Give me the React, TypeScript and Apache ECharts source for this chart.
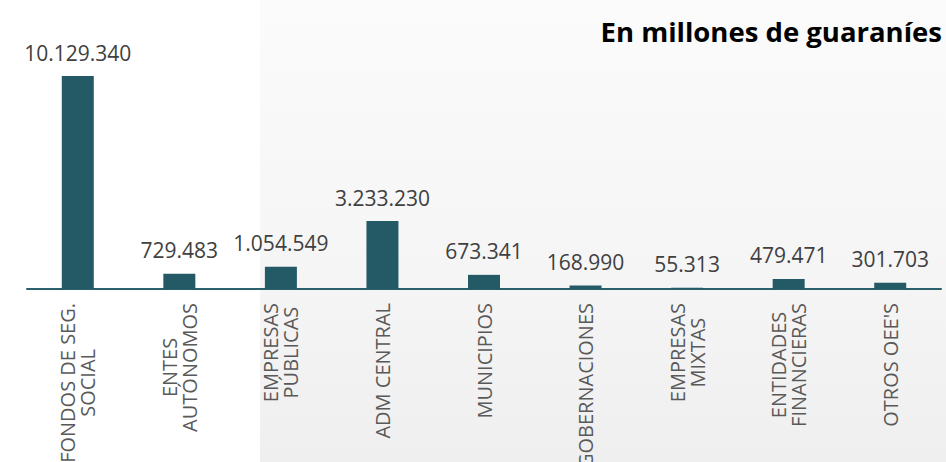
import React, { useEffect, useRef } from "react";
import * as echarts from "echarts";

const categories: string[] = [
  "FONDOS DE SEG.\nSOCIAL",
  "ENTES\nAUTÓNOMOS",
  "EMPRESAS\nPÚBLICAS",
  "ADM CENTRAL",
  "MUNICIPIOS",
  "GOBERNACIONES",
  "EMPRESAS\nMIXTAS",
  "ENTIDADES\nFINANCIERAS",
  "OTROS OEE'S",
];

const values: number[] = [10129340, 729483, 1054549, 3233230, 673341, 168990, 55313, 479471, 301703];

const title = "En millones de guaraníes";

function fmt(v: number): string {
  return String(Math.round(v)).replace(/\B(?=(\d{3})+(?!\d))/g, ".");
}

export default function App() {
  const ref = useRef<HTMLDivElement>(null);
  useEffect(() => {
    if (!ref.current) return;
    const chart = echarts.init(ref.current, undefined, { renderer: "svg" });
    const font = "'Open Sans', 'Noto Sans', sans-serif";
    chart.setOption({
      animation: false,
      backgroundColor: "#ffffff",
      textStyle: { fontFamily: font },
      graphic: [
        {
          type: "rect",
          z: -10,
          silent: true,
          shape: { x: 260, y: 0, width: 686, height: 462 },
          style: {
            fill: new echarts.graphic.LinearGradient(0, 0, 0, 1, [
              { offset: 0, color: "#fbfbfb" },
              { offset: 0.6, color: "#f5f5f5" },
              { offset: 1, color: "#efefef" },
            ]),
          },
        },
        {
          type: "text",
          right: 4,
          top: 17,
          style: {
            text: title,
            fontFamily: font,
            fontWeight: "bold",
            fontSize: 27.5,
            fill: "#000000",
          },
        },
      ],
      grid: { left: 27, right: 5, top: 76, bottom: 173, containLabel: false, outerBoundsMode: "none" },
      xAxis: {
        type: "category",
        data: categories,
        axisLine: { show: true, lineStyle: { color: "#2b5f6c", width: 2 } },
        axisTick: { show: false },
        axisLabel: {
          interval: 0,
          rotate: 90,
          margin: 14,
          color: "#595959",
          fontSize: 20,
          fontFamily: font,
          lineHeight: 20,
          formatter: (v: string) =>
            v
              .split("\n")
              .map((s) => "{c|" + s + "}")
              .join("\n"),
          rich: {
            c: { align: "center", fontSize: 20, lineHeight: 20, color: "#595959", fontFamily: font },
          },
        },
      },
      yAxis: {
        type: "value",
        min: 0,
        max: 10129340,
        show: false,
        splitLine: { show: false },
      },
      series: [
        {
          type: "bar",
          data: values,
          barWidth: 32,
          itemStyle: { color: "#245a66" },
          label: {
            show: true,
            position: "top",
            distance: 13,
            color: "#404040",
            fontSize: 21,
            fontFamily: font,
            formatter: (p: any) => fmt(p.value),
          },
        },
      ],
    });
    return () => chart.dispose();
  }, []);
  return <div ref={ref} style={{ position: "fixed", left: 0, top: 0, width: 946, height: 462 }} />;
}
